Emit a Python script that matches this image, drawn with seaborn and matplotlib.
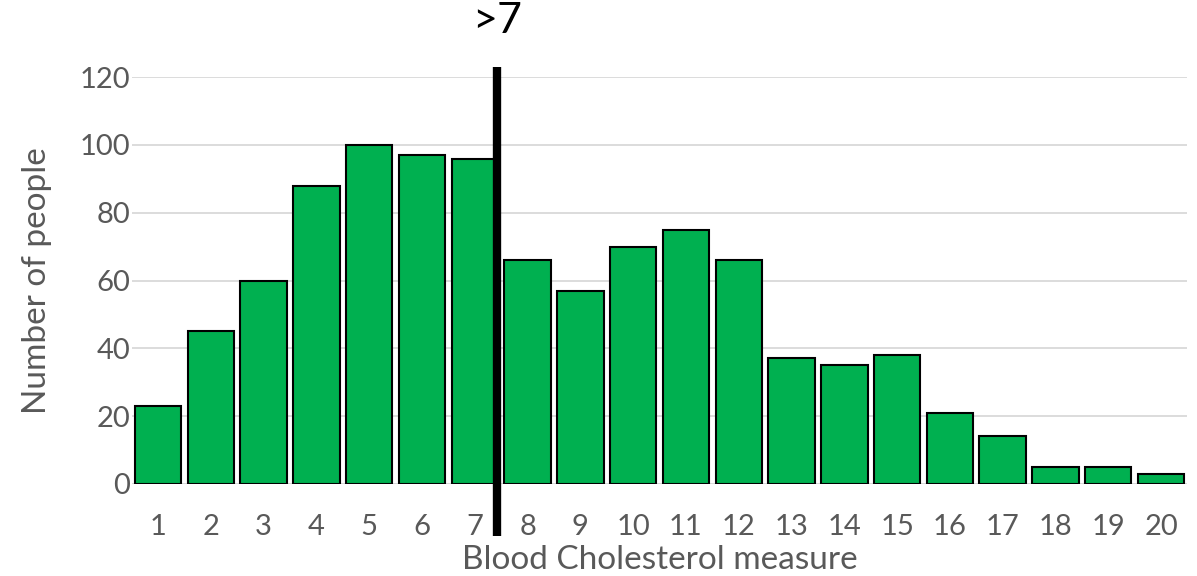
import matplotlib
matplotlib.use("Agg")
import matplotlib.pyplot as plt
import seaborn as sns
import pandas as pd

categories = [str(i) for i in range(1, 21)]
counts = [23, 45, 60, 88, 100, 97, 96, 66, 57, 70, 75, 66, 37, 35, 38, 21, 14, 5, 5, 3]
y_ticks = [0, 20, 40, 60, 80, 100, 120]
threshold_label = ">7"

sns.set_theme(style="white")
plt.rcParams['font.family'] = ['Lato', 'DejaVu Sans']

df = pd.DataFrame({"measure": categories, "people": counts})

fig = plt.figure(figsize=(11.97, 5.76), dpi=100)
ax = fig.add_axes([0.110, 0.160, 0.882, 0.706])

ax.yaxis.grid(True, color="#D9D9D9", linewidth=1.3)
ax.set_axisbelow(True)

sns.barplot(data=df, x="measure", y="people", color="#00B050", saturation=1,
            edgecolor="black", linewidth=1.5, width=0.88, ax=ax)

ax.set_ylim(0, 120)
ax.set_xlim(-0.5, 19.5)
ax.set_yticks(y_ticks)
for s in ax.spines.values():
    s.set_visible(False)
ax.axhline(0, color="#D9D9D9", linewidth=1.3, zorder=0.5)
ax.tick_params(axis="both", length=0, labelsize=21, colors="#595959")
ax.tick_params(axis="x", pad=22)
ax.tick_params(axis="y", pad=1)

ax.set_xlabel("Blood Cholesterol measure", fontsize=24, color="#595959", labelpad=3)
ax.set_ylabel("Number of people", fontsize=24, color="#595959", labelpad=20)

# threshold line
xl = 6.43
ax.plot([xl, xl], [123, -15.5], color="black", linewidth=6, clip_on=False, zorder=5,
        solid_capstyle="butt")
ax.text(xl, 131, threshold_label, ha="center", va="bottom", fontsize=31, color="black",
        clip_on=False)

fig.savefig("out.png", dpi=100)
